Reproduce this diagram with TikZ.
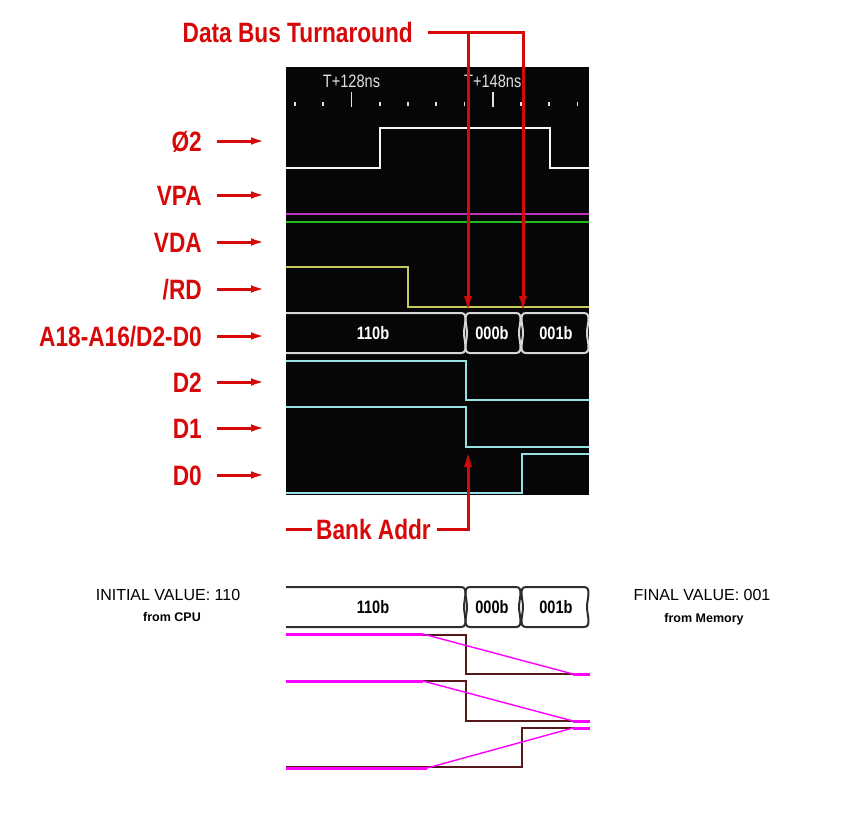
\documentclass[tikz,border=0pt]{standalone}
\usepackage{fontspec}
\setmainfont{Liberation Sans}
\newfontfamily\narrowsans{Liberation Sans}[FakeStretch=0.81]
\usepackage{tikz}
\usetikzlibrary{positioning,arrows.meta}
\definecolor{annot}{RGB}{214,8,8}
\definecolor{panelbg}{RGB}{6,6,9}
\definecolor{phicol}{RGB}{245,245,245}
\definecolor{vpacol}{RGB}{190,50,190}
\definecolor{vdacol}{RGB}{30,190,30}
\definecolor{rdcol}{RGB}{200,200,90}
\definecolor{dcol}{RGB}{150,225,225}
\definecolor{tracecol}{RGB}{85,25,25}
\definecolor{fadecol}{RGB}{255,0,255}
\definecolor{busline}{RGB}{215,215,215}
\definecolor{busdark}{RGB}{45,45,45}
\definecolor{ticktxt}{RGB}{225,225,225}

\begin{document}
\begin{tikzpicture}[x=1pt, y=-1pt,
  sig/.style={font=\narrowsans\bfseries\fontsize{28}{30}\selectfont, text=annot, inner sep=0pt, text height=20pt, text depth=0pt},
  sigarrow/.style={annot, line width=3pt, -{Latex[length=15pt,width=7.5pt]}},
  annline/.style={annot, line width=3pt},
  annarrow/.style={annline, -{Latex[length=17pt,width=8pt]}},
  ticktext/.style={font=\narrowsans\fontsize{18}{20}\selectfont, text=ticktxt, inner sep=0pt},
  bustext/.style={font=\narrowsans\bfseries\fontsize{18}{20}\selectfont, inner sep=0pt},
  note/.style={font=\fontsize{16}{18}\selectfont, inner sep=0pt},
  subnote/.style={font=\bfseries\fontsize{12.5}{14}\selectfont, inner sep=0pt}]
 \useasboundingbox (0,0) rectangle (861,812);
  % scope screen
  \fill[panelbg] (286,67) rectangle (589,495);
  \foreach \k in {0,...,10}{
  \pgfmathsetmacro{\tx}{295+28.25*\k}
  \draw[ticktxt, line width=1.6pt] (\tx,102) -- (\tx,106);
  }
  \foreach \tx/\lab/\n in {351.5/T+128ns/tlo, 492.75/T+148ns/thi}{
  \draw[ticktxt, line width=1.8pt] (\tx,92) -- (\tx,107);
  \node[ticktext] (\n) at (\tx,81) {\lab};
  }
  \draw[phicol, line width=2.6pt] (286,168) -- (380,168) -- (380,128) -- (550,128) -- (550,168) -- (589,168);
  \draw[vpacol, line width=2.6pt] (286,214) -- (589,214);
  \draw[vdacol, line width=2.4pt] (286,222) -- (589,222);
  \draw[rdcol, line width=2pt] (286,267) -- (408,267) -- (408,307) -- (589,307);
  % bus and data lines, screen and redrawn copy
  \foreach \dy/\bc/\tc/\dc/\n in {0/busline/white/dcol/a, 274/busdark/black/tracecol/b}{
  \begin{scope}[shift={(0,\dy)}]
  \draw[\bc, line width=2pt] (286,313) -- (461,313) to[out=0,in=90] (464,333) to[out=-90,in=0] (461,353) -- (286,353);
  \draw[\bc, line width=2pt] (470,313) to[out=180,in=90] (467,333) to[out=-90,in=180] (470,353) -- (516,353) to[out=0,in=-90] (519,333) to[out=90,in=0] (516,313) -- cycle;
  \draw[\bc, line width=2pt] (526,313) to[out=180,in=90] (523,333) to[out=-90,in=180] (526,353) -- (584,353) to[out=0,in=-90] (587,333) to[out=90,in=0] (584,313) -- cycle;
  \node[bustext, text=\tc] (v110\n) at (373,333) {110b};
  \node[bustext, text=\tc] (v000\n) at (492,333) {000b};
  \node[bustext, text=\tc] (v001\n) at (556,333) {001b};
  \draw[\dc, line width=2.6pt] (286,361) -- (466,361) -- (466,400) -- (589,400);
  \draw[\dc, line width=2.6pt] (286,407) -- (466,407) -- (466,447) -- (589,447);
  \draw[\dc, line width=2.6pt] (286,493) -- (522,493) -- (522,454) -- (589,454);
  \end{scope}
  }
  \foreach \ya/\yb/\xa in {634/674/423, 681/721/423, 768/728/427}{
  \draw[fadecol, line width=3pt] (286,\ya) -- (\xa,\ya);
  \draw[fadecol, line width=1.4pt] (\xa,\ya) -- (573,\yb);
  \draw[fadecol, line width=3pt] (573,\yb) -- (590,\yb);
  }
  % signal names
  \foreach \y/\txt/\nm in {141/Ø2/phi, 195/VPA/vpa, 242/VDA/vda, 289/{/RD}/rd, 336/{A18-A16/D2-D0}/bus, 382/D2/dtwo, 428/D1/done, 475/D0/dzero}{
  \node[sig, anchor=east] (\nm) at (202,\y) {\txt};
  \coordinate (\nm-tip) at (266,\y);
  \draw[sigarrow] ([xshift=15pt]\nm.east) -- (\nm-tip);
  }
  % turnaround and bank address
  \node[sig, anchor=east] (turn) at (413,32) {Data Bus Turnaround};
  \coordinate (tA) at (468,313);
  \coordinate (tB) at (523,313);
  \draw[annarrow] ([xshift=15pt]turn.east) -- (tB |- turn.east) -- (tB);
  \draw[annarrow] (tA |- turn.east) -- (tA);
  \node[sig] (bank) at (373.5,529) {Bank Addr};
  \coordinate (bankL) at (286,529);
  \coordinate (bankTip) at (468,450);
  \draw[annline] (bankL) -- ([xshift=-4pt]bank.west);
  \draw[annarrow] ([xshift=6pt]bank.east) -- (bankTip |- bank.east) -- (bankTip);
  % captions
  \node[note] (init) at (168,595) {INITIAL VALUE: 110};
  \node[subnote] (cpu) at (172,617) {from CPU};
  \node[note] (final) at (702,595) {FINAL VALUE: 001};
  \node[subnote] (mem) at (704,619) {from Memory};
 \end{tikzpicture}
\end{document}
